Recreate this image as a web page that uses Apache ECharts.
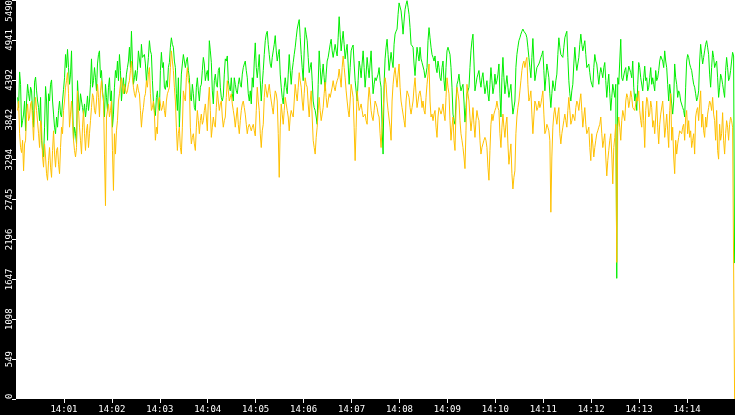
<!DOCTYPE html>
<html>
<head>
<meta charset="utf-8">
<script src="https://cdn.jsdelivr.net/npm/echarts@6/dist/echarts.min.js"></script>
<style>
html,body{margin:0;padding:0;background:#000;}
#chart{width:735px;height:415px;}
</style>
</head>
<body>
<div id="chart"></div>
<script>
// Time axis: seconds after 14:00:00, one reading every 1.25 s
const sampleStartSec = 2;
const sampleStepSec = 1.25;
const xTickSeconds = [60,120,180,240,300,360,420,480,540,600,660,720,780,840];
const xTickLabels = ['14:01','14:02','14:03','14:04','14:05','14:06','14:07','14:08','14:09','14:10','14:11','14:12','14:13','14:14'];
const yTickLabels = ['0','549','1098','1647','2196','2745','3294','3842','4392','4941','5490'];

// Green readings, in six stretches; "Mid" arrays are the readings taken between the main ones
const greenA = [4150,4500,3740,3920,3690,4330,4100,4240,3740,4430,4100,3830,3560,3330,4300,3560,4100,4390,3920,3650,3740,4100,3880,4260,4740,4810,4330,4790,3560,3650,4380,3970,4100,3920,3880,4170,4100,4680,4380,4420,4610,4790,4520,4100,4330,3970,4420,4240,3920,4520,4650,4740,4100,4420,4290,4560,4840,5060,4330,4520];
const greenAMid = [4010,4330,3830,4100,4100,4200,4290,3970,4360,4240,4010,4150,3420,3740,4100,4200,4330,4100,3740,3880,3970,3920,4100,4420,4560,4560,4470,4100,3740,3510,4100,4200,4010,4060,4010,3970,4330,4290,4560,4240,4740,4420,4240,3880,4150,4290,4100,3740,4290,4420,4380,4520,4290,4200,4470,4650,4560,4650,4420,4380];
const greenB = [4520,4770,4880,4680,4610,4540,4930,4740,4100,3900,4240,3970,4770,4630,4260,4290,4630,4970,4840,4560,3970,3740,4470,4740,4560,4700,4420,4100,4200,3970,4420,4100,4330,4700,4380,4520,4930,4630,4060,4470,4290,4560,4150,4170,4680,4720,4290,4420,4100,4330,4200,4420,4290,4560,4650,4420,4100,4060,4290,4900];
const greenBMid = [4790,4560,4700,4740,4380,4700,4790,4380,3970,4150,4010,4520,4560,4290,4380,4560,4840,4880,4650,4200,4420,4100,4610,4650,4650,4520,4150,4330,4010,4290,4240,4290,4520,4610,4470,4380,4790,4240,4380,4330,4520,4290,4100,4470,4650,4380,4240,4200,4420,4240,4330,4330,4470,4610,4520,4200,4240,4420,4650,4560];
const greenC = [4420,4740,4100,4520,4930,5060,4740,4560,4790,5000,4650,4810,4290,4060,4420,4200,4740,4330,4630,4840,5090,5220,4740,4380,5110,4930,4490,4630,4100,3970,3780,4790,4330,4610,4240,4650,4790,4950,4700,4880,4720,5260,4790,5060,4680,4880,4330,4790,4870,4380,4100,4650,4420,4790,4290,4700,4420,4790,4200,4420];
const greenCMid = [4560,4380,4330,4740,5020,4880,4610,4700,4880,4790,4740,4470,4150,4290,4290,4470,4520,4520,4740,4970,5160,4970,4560,4790,5020,4700,4560,4380,4010,3880,4330,4560,4470,4420,4470,4700,4880,4790,4790,4790,4970,5020,4930,4880,4790,4610,4560,4840,4610,4240,4380,4560,4610,4560,4470,4560,4610,4470,4330,4380];
const greenD = [4380,4560,4290,3370,4680,4950,4520,4770,4560,5020,5090,5450,5340,5020,5360,5480,5290,4880,4840,4450,4840,4650,4680,4610,4420,4560,5110,4840,4700,4720,4490,4560,4380,4650,4240,4790,4860,4560,3920,3780,4330,4470,4240,4330,3810,4200,4290,4790,5020,4240,4420,4520,4290,4490,4200,4380,4100,4560,4200,4470];
const greenDMid = [4470,4380,3740,4330,4840,4740,4650,4650,4880,5060,5290,5430,5200,5200,5430,5390,5110,4860,4610,4650,4740,4840,4630,4520,4470,4930,4970,4740,4650,4560,4650,4420,4560,4380,4560,4840,4740,4290,3830,4100,4380,4330,4290,4100,4010,4240,4560,4930,4650,4330,4470,4380,4420,4330,4290,4200,4330,4380,4290,4330];
const greenE = [4380,4610,3880,4700,4200,4450,4150,4330,3920,4100,4740,4930,5020,5090,5040,4970,4700,4420,4960,4380,4560,4610,4700,4790,4240,4610,4420,4010,4380,4240,4470,4970,4740,4700,4970,5060,4380,4100,4330,4840,4520,4700,5020,4790,4930,4560,4610,4380,4290,4740,4610,4330,4560,4420,4630,4150,4470,3970,4330,4150];
const greenEMid = [4470,4200,4420,4420,4330,4290,4240,4100,4010,4560,4840,4970,5060,5060,5020,4840,4560,4700,4650,4470,4580,4650,4740,4520,4420,4520,4200,4200,4290,4380,4740,4840,4720,4840,5020,4700,4200,4240,4610,4650,4610,4880,4880,4860,4740,4580,4490,4330,4560,4650,4470,4470,4490,4560,4380,4330,4200,4150,4240,4330];
const greenF = [1660,4330,4950,4380,4520,4380,4580,4490,4650,4100,3970,4630,4420,4240,4580,4420,4290,4560,4420,4240,4380,4520,4720,4650,4790,4560,4100,4200,3920,4610,4330,4240,4100,4010,3880,4650,4700,4560,4420,4290,4100,4240,4880,4610,4790,4930,4740,4290,4790,4560,4650,4150,4470,4330,4150,4700,4380,4520,4770,1870];
const greenFMid = [4420,4650,4420,4380,4560,4470,4560,4420,4290,4200,4330,4560,4420,4420,4380,4240,4420,4330,4330,4520,4420,4650,4740,4560,4650,4330,4330,4060,4100,4420,4150,4200,4100,3970,4290,4740,4610,4520,4330,4200,4150,4650,4740,4700,4880,4840,4470,4560,4700,4610,4420,4290,4420,4240,4520,4560,4420,4650,4720];

// Orange readings
const orangeA = [3970,3650,3390,3140,3560,4060,3880,4100,3560,4150,3970,3460,3740,3190,3330,3010,3460,3050,3690,3190,3460,3100,3740,3970,4290,4490,3740,4100,3560,3330,4240,3740,3370,3970,3420,3780,3650,4010,4150,3920,4330,3880,4380,4150,2660,3970,3880,4100,2870,3370,3830,4200,4420,4200,4330,4240,4380,4650,4290,4150];
const orangeAMid = [4100,3460,3560,3510,3920,3830,4060,3830,3970,3970,3650,3830,3330,3510,3100,3280,3190,3420,3370,3420,3230,3460,3650,4100,4380,4200,3920,3830,3420,3460,3970,3560,3740,3650,3690,3460,3830,4200,3970,4100,4150,4240,4200,3370,3880,4060,3970,3420,3650,3690,4100,4330,4290,4330,4200,4330,4520,4420,4200,4240];
const orangeB = [4330,4200,3740,4010,4200,4290,4560,3970,4100,3560,3650,4150,3970,4100,3880,4200,4290,4790,4520,4100,3420,3740,3370,4240,4100,4560,4330,3510,3650,3420,3970,3650,3920,3830,4060,3690,4290,3600,3880,3740,4240,3970,4100,3740,3880,4380,4100,4200,3970,3740,4010,3650,3970,4100,3920,3650,3780,3690,3780,3620];
const orangeBMid = [4240,3970,3920,4150,4380,4470,4200,4010,3920,3740,4100,4060,4010,3970,4100,4240,4560,4650,4290,3740,3650,3460,3740,4150,4420,4380,3740,3600,3510,3740,3830,3830,3780,3970,3880,4100,3970,3740,3780,4010,4100,4060,3880,3830,4150,4240,4150,4060,3880,3880,3780,3830,4060,4010,3780,3740,3740,3740,3690,3970];
const orangeC = [4290,3970,3460,3780,4330,4150,4330,4100,3920,4240,4100,3050,4060,3780,4150,3970,3690,3970,3880,4330,4100,4490,4290,3970,4420,4290,3880,4240,3560,3370,3740,4150,3830,4010,4360,4010,4200,4150,4380,4240,4380,4540,4290,4720,4420,4100,3880,4330,4150,3280,4240,3970,4060,3880,3920,3780,4290,3970,3830,4100];
const orangeCMid = [4100,3650,3690,4150,4240,4240,4200,4010,4100,4200,3650,3740,3920,3970,4060,3880,3880,3920,4100,4200,4290,4380,4100,4200,4330,4060,4100,3880,3460,3600,3970,3970,3920,4200,4150,4100,4150,4290,4290,4330,4420,4420,4560,4560,4240,3970,4100,4240,3740,3740,4100,4010,3970,3880,3830,4100,4150,3880,3970,4060];
const orangeD = [4010,3880,3460,3970,4420,4100,3970,3560,4330,4560,4290,4610,4100,3920,3740,4240,4150,3920,4100,4420,4010,4200,4150,4100,3920,4330,4610,3880,3830,3970,3600,4010,3920,4060,3830,4420,4200,3560,3880,3420,4290,4100,3650,3460,3170,4330,4100,3690,4010,3600,3970,3830,3370,3510,3600,3460,3010,3780,3830,3970];
const orangeDMid = [3920,3650,3740,4200,4330,3970,3740,4100,4470,4420,4470,4290,4010,3830,4100,4200,4010,4010,4290,4200,4100,4240,4010,3970,4150,4470,4100,3920,3920,3740,3880,3970,3970,3920,4150,4290,3830,3740,3560,3970,4200,3830,3560,3330,3690,4200,3880,3830,3780,3830,3880,3560,3460,3560,3560,3190,3420,3920,3920,4010];
const orangeE = [4100,3970,3460,3920,3600,3880,3230,3510,2890,3140,3880,4100,4380,4610,4560,4700,4100,4240,3650,4100,3970,4100,4060,4240,3650,3780,3690,2570,3740,4010,3780,4010,3510,3740,3920,3740,4150,3780,3920,3830,4100,3970,4200,3740,4010,3650,3740,3280,3510,3460,3650,3740,3880,3460,3650,3070,3420,3650,2960,3600];
const orangeEMid = [4010,3650,3740,3740,3780,3510,3370,3100,3050,3650,4010,4240,4520,4650,4650,4330,4150,3920,3880,4060,4010,4010,4150,3920,3690,3740,3560,3330,3920,3880,3920,3650,3650,3830,3830,3970,3970,3830,3880,4010,4060,4100,3970,3880,3780,3690,3460,3650,3330,3560,3690,3780,3650,3560,3330,3280,3560,3370,3460,3780];
const orangeF = [1880,3880,3560,3970,3830,4200,4010,4240,4010,3970,4150,4240,3830,4100,3460,4150,3880,4100,3740,3650,4100,3510,3920,4100,3600,3920,3460,4200,3740,3100,3370,3600,3690,3740,3560,3970,3830,3690,3560,3370,3970,3830,4240,3920,3600,3740,4010,4060,4150,3830,3970,3300,3560,3940,3370,3830,3560,3880,3740,0];
const orangeFMid = [3740,3740,3830,3970,4100,4150,4100,4150,4010,4060,4100,3970,3740,3830,3970,4100,3920,4010,3830,3880,3740,3780,3920,3880,3740,3690,3970,3560,3330,3560,3510,3690,3650,3780,3880,3650,3600,3460,3650,3880,4010,4060,3740,3690,3880,3920,4100,3970,3920,3560,3420,3780,3650,3560,3650,3740,3780,3830,3740];

// put the main readings and the in-between readings back in time order
function merge(main, mid){
  const out = [];
  for (let i = 0; i < main.length; i++){
    out.push(main[i]);
    if (i < mid.length) out.push(mid[i]);
  }
  return out;
}
const greenValues = [].concat(merge(greenA,greenAMid), merge(greenB,greenBMid), merge(greenC,greenCMid), merge(greenD,greenDMid), merge(greenE,greenEMid), merge(greenF,greenFMid));
const orangeValues = [].concat(merge(orangeA,orangeAMid), merge(orangeB,orangeBMid), merge(orangeC,orangeCMid), merge(orangeD,orangeDMid), merge(orangeE,orangeEMid), merge(orangeF,orangeFMid));

function toPairs(arr){ return arr.map((v,i)=>[sampleStartSec + i*sampleStepSec, v]); }

const chart = echarts.init(document.getElementById('chart'), null, {renderer:'canvas'});
const font = 'DejaVu Sans Mono';
chart.setOption({
  backgroundColor:'#000',
  animation:false,
  grid:{left:16, right:0, top:0, bottom:16, show:true, backgroundColor:'#fff', borderWidth:0,
        containLabel:false, outerBoundsMode:'none'},
  xAxis:{
    type:'value', min:0, max:900,
    axisLine:{show:false},
    axisTick:{show:true, length:4, lineStyle:{color:'#fff', width:1}, customValues:xTickSeconds},
    axisLabel:{color:'#fff', fontFamily:font, fontSize:9, margin:6, customValues:xTickSeconds,
      formatter:function(v){ const i = xTickSeconds.indexOf(v); return i>=0 ? xTickLabels[i] : ''; }},
    splitLine:{show:false}
  },
  yAxis:{
    type:'value', min:0, max:5490, interval:549,
    axisLine:{show:false},
    axisTick:{show:true, length:4, lineStyle:{color:'#fff', width:1}},
    axisLabel:{color:'#fff', fontFamily:font, fontSize:9, rotate:90, margin:2,
      alignMaxLabel:'right', alignMinLabel:'left',
      formatter:function(v){ return yTickLabels[Math.round(v/549)] || ''; }},
    splitLine:{show:false}
  },
  series:[
    {type:'line', name:'green', data:toPairs(greenValues), showSymbol:false, sampling:null,
      lineStyle:{color:'#00ee00', width:1}, itemStyle:{color:'#00ee00'}},
    {type:'line', name:'orange', data:toPairs(orangeValues), showSymbol:false, sampling:null,
      lineStyle:{color:'#ffc000', width:1}, itemStyle:{color:'#ffc000'}}
  ]
});
</script>
</body>
</html>
